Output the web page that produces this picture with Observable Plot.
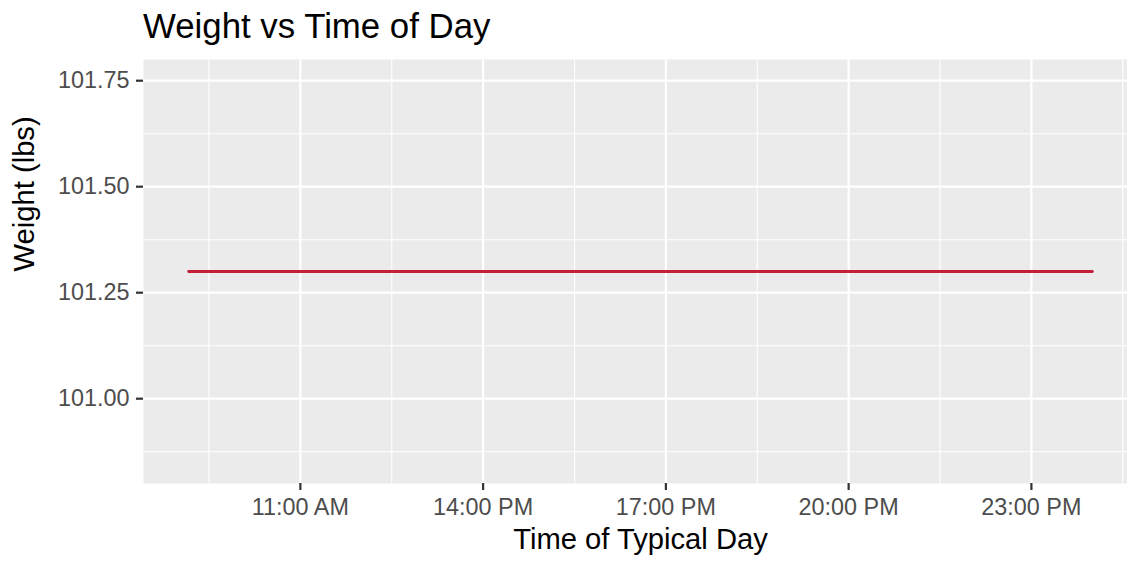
<!DOCTYPE html>
<html><head><meta charset="utf-8">
<script src="https://cdn.jsdelivr.net/npm/d3@7"></script>
<script src="https://cdn.jsdelivr.net/npm/@observablehq/plot@0.6"></script>
<style>
html,body{margin:0;padding:0;background:#fff;overflow:hidden;}
#title{font-family:"Liberation Sans",Arial,sans-serif;font-size:34.8px;line-height:51px;height:50px;padding-left:143px;color:#000;white-space:nowrap;box-sizing:border-box;overflow:visible;}
#chart{width:1127px;overflow:hidden;}
#chart svg{display:block;max-width:none !important;width:1137px;height:511px;}
</style></head><body>
<div id="title">Weight vs Time of Day</div>
<div id="chart"></div>
<script>
// ---- data ----
const times = ["09:10", "24:00"];
const weights = [101.3, 101.3];
const xTickTimes = ["11:00", "14:00", "17:00", "20:00", "23:00"];
const xTickLabels = ["11:00 AM", "14:00 PM", "17:00 PM", "20:00 PM", "23:00 PM"];
const xMinorTimes = ["09:30", "12:30", "15:30", "18:30", "21:30", "24:30"];
const yTicks = [101.00, 101.25, 101.50, 101.75];
const yLabels = ["101.00", "101.25", "101.50", "101.75"];
const yMinor = [100.875, 101.125, 101.375, 101.625];
const xTitle = "Time of Typical Day";
const yTitle = "Weight (lbs)";

function toDate(s) {
  const [h, m] = s.split(":").map(Number);
  return new Date(Date.UTC(2024, 0, 1, h, m));
}
const data = times.map((t, i) => ({time: toDate(t), weight: weights[i]}));
const xt = xTickTimes.map(toDate);
const xm = xMinorTimes.map(toDate);
const labelOf = new Map(xt.map((d, i) => [+d, xTickLabels[i]]));
const yLabelOf = new Map(yTicks.map((d, i) => [d, yLabels[i]]));

// ggplot-style 5% expansion of the data extent
const ext = d3.extent(data, d => +d.time);
const pad = (ext[1] - ext[0]) * 0.05;
const xDomain = [new Date(ext[0] - pad), new Date(ext[1] + pad)];
const yc = weights[0];
const yDomain = [yc - 0.5, yc + 0.5];

const font = "Liberation Sans, Arial, sans-serif";
const plot = Plot.plot({
  width: 1137,
  height: 511,
  marginTop: 9,
  marginBottom: 78,
  marginLeft: 143,
  marginRight: 0,
  style: {fontFamily: font, fontSize: "23px", background: "white", overflow: "visible"},
  x: {type: "utc", domain: xDomain},
  y: {domain: yDomain},
  marks: [
    Plot.frame({fill: "#EBEBEB", stroke: null}),
    Plot.ruleX(xm, {stroke: "white", strokeWidth: 1.1}),
    Plot.ruleY(yMinor, {stroke: "white", strokeWidth: 1.1}),
    Plot.ruleX(xt, {stroke: "white", strokeWidth: 2.2}),
    Plot.ruleY(yTicks, {stroke: "white", strokeWidth: 2.2}),
    Plot.line(data, {x: "time", y: "weight", stroke: "#C41E3A", strokeWidth: 2.8}),
    Plot.axisX({ticks: xt, tickFormat: d => labelOf.get(+d), tickSize: 7, tickPadding: 8,
      stroke: "#333333", fill: "#4D4D4D", strokeWidth: 2.2, fontSize: 23.4, label: null}),
    Plot.axisY({ticks: yTicks, tickFormat: d => yLabelOf.get(d), tickSize: 7, tickPadding: 7,
      stroke: "#333333", fill: "#4D4D4D", strokeWidth: 2.2, fontSize: 23.4, label: null}),
    Plot.text([xTitle], {frameAnchor: "bottom", dy: 44.5, lineAnchor: "top", fontSize: 29.2, fill: "black"}),
    Plot.text([yTitle], {frameAnchor: "left", dx: -130, rotate: -90, lineAnchor: "top", fontSize: 29.2, fill: "black"})
  ]
});
document.getElementById("chart").appendChild(plot);
</script>
</body></html>
